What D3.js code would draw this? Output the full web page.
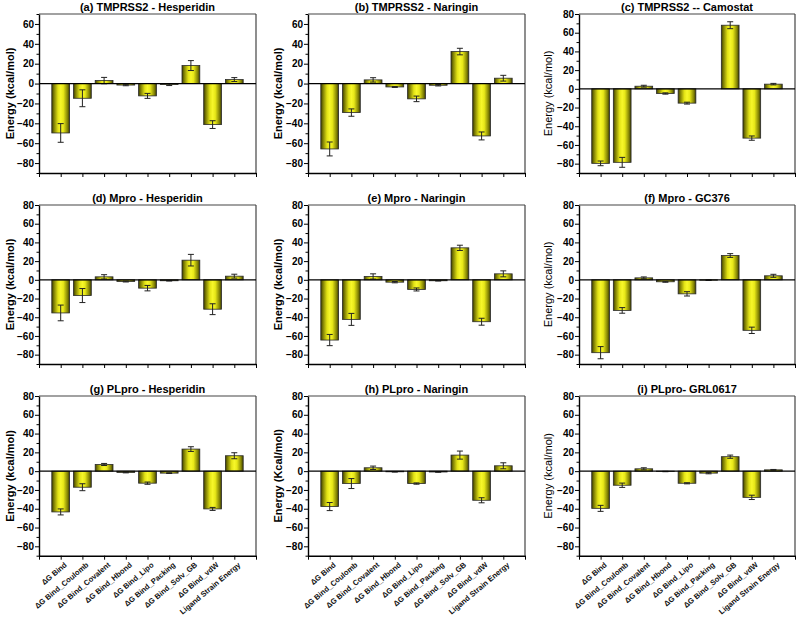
<!DOCTYPE html>
<html>
<head>
<meta charset="utf-8">
<script src="https://cdn.jsdelivr.net/npm/d3@7"></script>
<style>
  html, body { margin: 0; padding: 0; background: #fff; }
  svg text { font-family: "Liberation Sans", Arial, sans-serif; }
</style>
</head>
<body>
<svg id="chart" width="797" height="617"></svg>
<script>
// ---------- DATA ----------
const categories = ["ΔG Bind", "ΔG Bind_Coulomb", "ΔG Bind_Covalent", "ΔG Bind_Hbond",
  "ΔG Bind_Lipo", "ΔG Bind_Packing", "ΔG Bind_Solv_GB", "ΔG Bind_vdW", "Ligand Strain Energy"];

const titles = ["(a) TMPRSS2 - Hesperidin", "(b) TMPRSS2 - Naringin", "(c) TMPRSS2 -- Camostat",
  "(d) Mpro - Hesperidin", "(e) Mpro - Naringin", "(f) Mpro - GC376",
  "(g) PLpro - Hesperidin", "(h) PLpro - Naringin", "(i) PLpro- GRL0617"];

const yLabels = ["Energy (kcal/mol)", "Energy (kcal/mol)", "Energy (kcal/mol)",
  "Energy (kcal/mol)", "Energy (kcal/mol)", "Energy (kcal/mol)",
  "Energy (kcal/mol)", "Energy (Kcal/mol)", "Energy (kcal/mol)"];

const yDomains = [[-90, 70], [-90, 70], [-90, 80],
  [-90, 80], [-90, 80], [-90, 80],
  [-90, 80], [-90, 80], [-90, 80]];

const yTicksTop = [60, 60, 80, 80, 80, 80, 80, 80, 80];

const valuesA = [-49.7, -14.8, 3.0, -1.5, -12.4, -1.0, 18.1, -41.3, 4.0];
const errorsA = [9.4, 8.5, 3.2, 0.7, 2.5, 1.0, 5.0, 3.9, 2.0];
const valuesB = [-65.8, -29.2, 3.7, -3.4, -15.4, -1.7, 32.2, -52.7, 5.4];
const errorsB = [7.0, 3.7, 2.2, 0.5, 2.8, 0.7, 3.3, 4.0, 2.9];
const valuesC = [-79.7, -78.6, 2.8, -5.0, -15.3, 0.0, 68.0, -52.7, 5.0];
const errorsC = [2.5, 5.3, 1.0, 0.7, 1.0, 0.0, 3.7, 2.3, 0.8];
const valuesD = [-35.4, -16.8, 3.2, -1.8, -8.9, -1.0, 21.0, -31.4, 3.9];
const errorsD = [8.4, 7.5, 2.3, 0.5, 2.9, 0.3, 6.2, 5.8, 2.1];
const valuesE = [-64.4, -42.3, 3.6, -2.5, -10.3, -1.0, 34.2, -44.8, 6.4];
const errorsE = [6.0, 6.4, 2.8, 0.7, 1.6, 0.3, 2.8, 3.7, 3.2];
const valuesF = [-77.9, -32.7, 2.1, -2.1, -15.0, -0.4, 26.0, -54.0, 4.3];
const errorsF = [6.5, 3.0, 1.0, 0.5, 2.3, 0.3, 2.0, 3.4, 1.6];
const valuesG = [-43.4, -17.1, 7.1, -1.4, -12.8, -2.1, 23.5, -40.2, 16.4];
const errorsG = [3.2, 3.7, 1.1, 0.4, 1.2, 0.4, 2.5, 1.6, 3.2];
const valuesH = [-37.7, -13.2, 3.6, -0.7, -13.2, -0.9, 17.1, -31.0, 5.7];
const errorsH = [4.3, 5.3, 1.8, 0.3, 0.7, 0.3, 4.3, 2.7, 3.2];
const valuesI = [-39.6, -15.0, 2.5, -0.4, -12.9, -2.1, 15.4, -27.9, 1.4];
const errorsI = [3.2, 2.3, 1.1, 0.2, 0.6, 0.7, 1.7, 2.3, 0.4];

const panelValues = [valuesA, valuesB, valuesC, valuesD, valuesE, valuesF, valuesG, valuesH, valuesI];
const panelErrors = [errorsA, errorsB, errorsC, errorsD, errorsE, errorsF, errorsG, errorsH, errorsI];

// ---------- LAYOUT ----------
const colLeft = [39, 308, 579];
const colRight = [256, 525, 795];
const rowTop = [14, 205, 396];
const rowBottom = [173, 364, 555.7];
const yLabelX = [10, 278, 548];

const svg = d3.select("#chart");
const defs = svg.append("defs");
const grad = defs.append("linearGradient").attr("id", "barGrad")
  .attr("x1", "0%").attr("x2", "100%").attr("y1", "0%").attr("y2", "0%");
[[0, "#3c3c00"], [0.12, "#7d7d05"], [0.35, "#e3e315"], [0.5, "#f7f72a"],
 [0.65, "#e8e818"], [0.88, "#858505"], [1, "#3c3c00"]].forEach(([o, c]) =>
  grad.append("stop").attr("offset", o).attr("stop-color", c));

panelValues.forEach((vals, p) => {
  const r = Math.floor(p / 3), c = p % 3;
  const L = colLeft[c], R = colRight[c], T = rowTop[r], B = rowBottom[r];
  const errs = panelErrors[p];
  const g = svg.append("g");

  const x = d3.scaleLinear().domain([0, categories.length + 1]).range([L, R]);
  const y = d3.scaleLinear().domain(yDomains[p]).range([B, T]);
  const step = x(1) - x(0);
  const bw = step * 0.82;

  // frame (top + right)
  g.append("line").attr("x1", L).attr("x2", R).attr("y1", T).attr("y2", T)
    .attr("stroke", "#444").attr("stroke-width", 1.2);
  g.append("line").attr("x1", R).attr("x2", R).attr("y1", T).attr("y2", B)
    .attr("stroke", "#444").attr("stroke-width", 1.2);

  // bars
  g.selectAll("rect.bar").data(vals).enter().append("rect")
    .attr("class", "bar")
    .attr("x", (d, i) => x(i + 1) - bw / 2)
    .attr("width", bw)
    .attr("y", d => Math.min(y(d), y(0)))
    .attr("height", d => Math.abs(y(d) - y(0)))
    .attr("fill", "url(#barGrad)")
    .attr("stroke", "#2a2a2a").attr("stroke-width", 0.8);

  // error bars
  vals.forEach((d, idx) => {
    const e = errs[idx];
    if (!(e > 0)) return;
    const gi = g.append("g").attr("stroke", "#222").attr("stroke-width", 1);
    const cx = x(idx + 1);
    gi.append("line").attr("x1", cx).attr("x2", cx).attr("y1", y(d + e)).attr("y2", y(d - e));
    gi.append("line").attr("x1", cx - 3).attr("x2", cx + 3).attr("y1", y(d + e)).attr("y2", y(d + e));
    gi.append("line").attr("x1", cx - 3).attr("x2", cx + 3).attr("y1", y(d - e)).attr("y2", y(d - e));
  });

  // zero line
  g.append("line").attr("x1", L).attr("x2", R).attr("y1", y(0)).attr("y2", y(0))
    .attr("stroke", "#000").attr("stroke-width", 1.2);

  // y axis
  const majors = d3.range(-80, yTicksTop[p] + 1, 20);
  const minors = d3.range(-90, yDomains[p][1] + 0.1, 10).filter(v => v % 20 !== 0);
  const yAx = g.append("g").attr("transform", `translate(${L},0)`)
    .call(d3.axisLeft(y).tickValues(majors).tickSize(4).tickPadding(1).tickSizeOuter(0));
  yAx.select(".domain").attr("stroke", "#000").attr("stroke-width", 1.4);
  yAx.selectAll(".tick line").attr("stroke", "#000").attr("stroke-width", 1);
  yAx.selectAll(".tick text").attr("font-size", 10).attr("font-weight", "bold").attr("fill", "#000");
  const yMin = g.append("g").attr("transform", `translate(${L},0)`)
    .call(d3.axisLeft(y).tickValues(minors).tickSize(2.5).tickFormat("").tickSizeOuter(0));
  yMin.select(".domain").remove();
  yMin.selectAll(".tick line").attr("stroke", "#000");

  // x axis
  const xAx = g.append("g").attr("transform", `translate(0,${B})`)
    .call(d3.axisBottom(x).tickValues(d3.range(0, categories.length + 2)).tickSize(4).tickFormat("").tickSizeOuter(0));
  xAx.select(".domain").attr("stroke", "#000").attr("stroke-width", 1.4);
  xAx.selectAll(".tick line").attr("stroke", "#000");

  if (r === 2) {
    g.selectAll("text.xl").data(categories).enter().append("text")
      .attr("class", "xl")
      .attr("transform", (d, i) => `translate(${x(i + 1) + 5},${B + 8}) rotate(-40)`)
      .attr("text-anchor", "end").attr("dy", "0.35em")
      .attr("font-size", 7.6).attr("font-weight", "bold").attr("fill", "#111")
      .text(d => d);
  }

  // title
  g.append("text").attr("x", (L + R) / 2).attr("y", T - 3)
    .attr("text-anchor", "middle").attr("font-size", 11).attr("font-weight", "bold")
    .text(titles[p]);

  // y label
  g.append("text")
    .attr("transform", `translate(${yLabelX[c]},${(T + B) / 2}) rotate(-90)`)
    .attr("text-anchor", "middle").attr("dy", "0.35em")
    .attr("font-size", 11).attr("font-weight", c === 2 ? "normal" : "bold")
    .text(yLabels[p]);
});
</script>
</body>
</html>
